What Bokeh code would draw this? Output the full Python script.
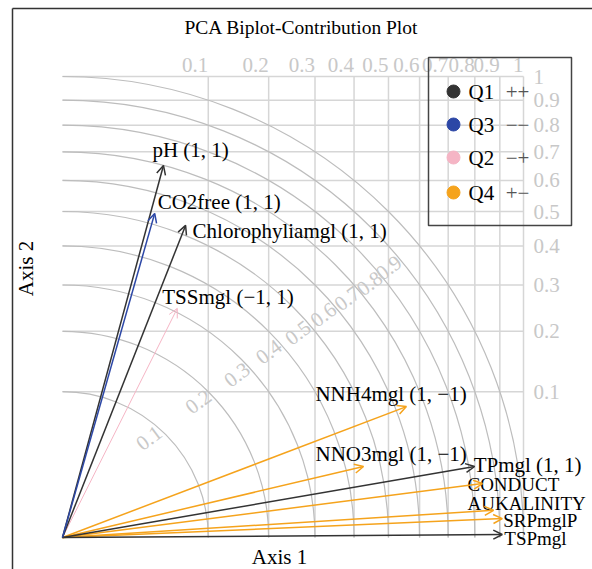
import math
from bokeh.plotting import figure
from bokeh.models import Range1d, Arrow, OpenHead, ColumnDataSource
from bokeh.core.properties import value
from bokeh.embed import file_html
from bokeh.resources import INLINE

# ---------------- data ----------------
levels = [0.1, 0.2, 0.3, 0.4, 0.5, 0.6, 0.7, 0.8, 0.9, 1.0]
level_labels = ["0.1", "0.2", "0.3", "0.4", "0.5", "0.6", "0.7", "0.8", "0.9", "1"]

variables = ["pH", "CO2free", "Chlorophyliamgl", "TSSmgl", "NNH4mgl", "NNO3mgl",
             "TPmgl", "CONDUCT", "AUKALINITY", "SRPmglP", "TSPmgl"]
var_labels = ["pH (1, 1)", "CO2free (1, 1)", "Chlorophyliamgl (1, 1)", "TSSmgl (\u22121, 1)",
              "NNH4mgl (1, \u22121)", "NNO3mgl (1, \u22121)", "TPmgl (1, 1)", "CONDUCT",
              "AUKALINITY", "SRPmglP", "TSPmgl"]
axis1 = [0.219, 0.200, 0.267, 0.249, 0.746, 0.653, 0.894, 0.911, 0.935, 0.954, 0.954]
axis2 = [0.807, 0.703, 0.677, 0.497, 0.284, 0.154, 0.154, 0.117, 0.059, 0.041, 0.0065]
quadrant = ["Q1", "Q3", "Q1", "Q2", "Q4", "Q4", "Q1", "Q4", "Q4", "Q4", "Q1"]

legend_names = ["Q1", "Q3", "Q2", "Q4"]
legend_signs = ["++", "\u2212\u2212", "\u2212+", "+\u2212"]

# ---------------- layout / style ----------------
W, H = 592, 569
S = 461.0          # pixels per unit
OX, OY = 62, 537   # origin in page pixels
def X(px): return (px - OX) / S
def Y(py): return (OY - py) / S

colors = {"Q1": "#333333", "Q3": "#2c47a6", "Q2": "#f5b5c5", "Q4": "#f5a31c"}
widths = {"Q1": 1.5, "Q3": 1.5, "Q2": 1.0, "Q4": 1.5}
# label offsets in pixels (right, down) relative to arrow tip
label_off = [(-11, -15), (3, -11), (7, 6), (-15, -11), (-91, -13), (-48, -13),
             (-1, -2), (-15, 1), (-26, -7), (1, 2), (2, 4)]
label_size = ["21px"] * 7 + ["19px"] * 4
diag_angles = [49, 45, 43, 42, 41, 40.5, 40, 39.6, 39.6]
SERIF = value("Liberation Serif")

p = figure(width=W, height=H, output_backend="svg", toolbar_location=None,
           x_range=Range1d(X(0), X(W)), y_range=Range1d(Y(H), Y(0)),
           x_axis_location=None, y_axis_location=None, min_border=0)
p.grid.visible = False
p.outline_line_color = None
p.background_fill_color = "white"
p.border_fill_color = "white"

sq = [math.sqrt(v) for v in levels]

# grid (square-root spaced)
p.segment(x0=[0] * len(sq), y0=sq, x1=[1] * len(sq), y1=sq, line_color="#d6d6d6", line_width=1.5)
p.segment(x0=sq, y0=[0] * len(sq), x1=sq, y1=[1] * len(sq), line_color="#d6d6d6", line_width=1.5)
# contribution arcs
p.arc(x=[0] * len(sq), y=[0] * len(sq), radius=sq, start_angle=0, end_angle=math.pi / 2,
      line_color="#bdbdbd", line_width=1.2)

# tick labels: top and right
p.text(x=sq, y=[Y(64)] * len(sq), text=level_labels, text_align="right", text_baseline="middle",
       text_font=SERIF, text_font_size="21px", text_color="#c8c8c8")
p.text(x=[1 + 10 / S] * len(sq), y=sq, text=level_labels, text_align="left", text_baseline="middle",
       text_font=SERIF, text_font_size="21px", text_color="#c8c8c8")
# diagonal labels on arcs
dx_, dy_ = [], []
for s, a in zip(sq[:-1], diag_angles):
    rr = s - 14 / S
    dx_.append(rr * math.cos(math.radians(a)))
    dy_.append(rr * math.sin(math.radians(a)))
p.text(x=dx_, y=dy_, text=level_labels[:-1], angle=math.radians(37), text_align="center",
       text_baseline="middle", text_font=SERIF, text_font_size="21px", text_color="#c8c8c8")

# arrows
for q in ["Q2", "Q4", "Q1", "Q3"]:
    idx = [i for i, qq in enumerate(quadrant) if qq == q]
    src = ColumnDataSource(dict(x0=[0.0] * len(idx), y0=[0.0] * len(idx),
                                x1=[axis1[i] for i in idx], y1=[axis2[i] for i in idx]))
    p.add_layout(Arrow(end=OpenHead(size=9, line_color=colors[q], line_width=widths[q]),
                       x_start="x0", y_start="y0", x_end="x1", y_end="y1", source=src,
                       line_color=colors[q], line_width=widths[q]))

# variable labels
lx = [axis1[i] + label_off[i][0] / S for i in range(len(variables))]
ly = [axis2[i] - label_off[i][1] / S for i in range(len(variables))]
p.text(x=lx, y=ly, text=var_labels, text_align="left", text_baseline="middle",
       text_font=SERIF, text_font_size=label_size, text_color="black")

# legend box (transparent)
p.quad(left=X(428), right=X(571), top=Y(57), bottom=Y(225), fill_color=None,
       line_color="#444444", line_width=1.5)
ly_leg = [Y(91), Y(124), Y(157), Y(192)]
p.scatter(x=[X(453)] * 4, y=ly_leg, size=13, color=[colors[q] for q in legend_names])
p.text(x=[X(468)] * 4, y=ly_leg, text=legend_names, text_align="left", text_baseline="middle",
       text_font=SERIF, text_font_size="21px", text_color="black")
p.text(x=[X(517)] * 4, y=ly_leg, text=legend_signs, text_align="center", text_baseline="middle",
       text_font=SERIF, text_font_size="21px", text_color="#555555")

# outer border (left and top)
p.segment(x0=[X(12), X(12)], y0=[Y(8), Y(8)], x1=[X(12), X(600)], y1=[Y(600), Y(8)],
          line_color="#333333", line_width=1.5)

# title and axis titles
p.text(x=[X(301)], y=[Y(27)], text=["PCA Biplot-Contribution Plot"], text_align="center",
       text_baseline="middle", text_font=SERIF, text_font_size="19.5px", text_color="black")
p.text(x=[X(279)], y=[Y(556)], text=["Axis 1"], text_align="center", text_baseline="middle",
       text_font=SERIF, text_font_size="21px", text_color="black")
p.text(x=[X(25)], y=[Y(268)], text=["Axis 2"], angle=math.pi / 2, text_align="center",
       text_baseline="middle", text_font=SERIF, text_font_size="21px", text_color="black")

open("out.html", "w").write(file_html(p, INLINE))
